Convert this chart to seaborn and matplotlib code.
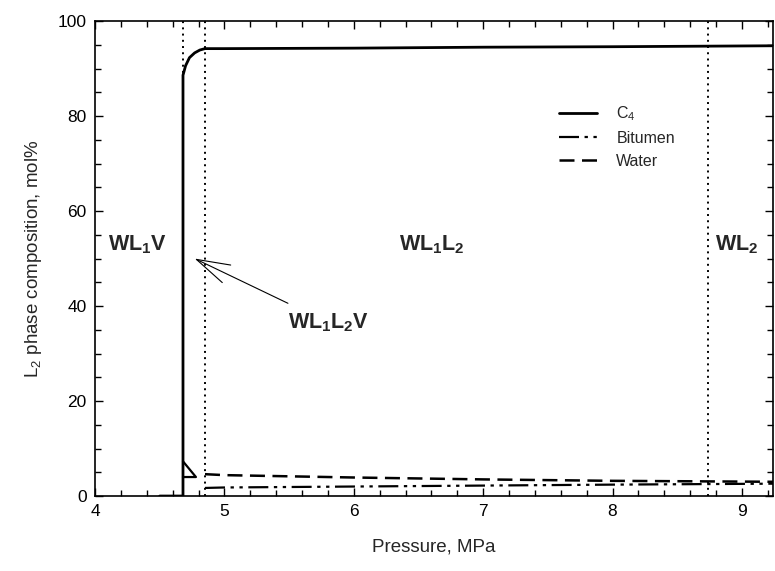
import matplotlib
matplotlib.use("Agg")
import matplotlib.pyplot as plt
from matplotlib.ticker import MultipleLocator
import seaborn as sns
import pandas as pd

# Pressure (MPa) and L2-phase composition (mol%)
c4_pressure = [4.50, 4.68, 4.68, 4.70, 4.73, 4.77, 4.81, 4.85, 5.0, 6.0, 7.0, 8.0, 9.24]
c4_mol = [0.0, 0.0, 88.6, 90.6, 92.3, 93.3, 93.9, 94.2, 94.2, 94.3, 94.5, 94.6, 94.8]

bitumen_pressure = [4.85, 5.0, 6.0, 7.0, 8.0, 9.24]
bitumen_mol = [1.7, 1.8, 2.0, 2.2, 2.4, 2.6]

water_pressure = [4.85, 5.0, 6.0, 7.0, 8.0, 9.24]
water_mol = [4.6, 4.4, 3.9, 3.5, 3.2, 3.0]

# three-phase L2 composition segment (bitumen/water inside WL1L2V)
three_phase_pressure = [4.68, 4.78, 4.68]
three_phase_mol = [7.3, 4.0, 4.0]

# phase boundaries (MPa)
boundaries = [4.68, 4.85, 8.74]

region_labels = [r"$\mathbf{WL_1V}$", r"$\mathbf{WL_1L_2}$", r"$\mathbf{WL_2}$"]
region_x = [4.1, 6.35, 8.79]
region_y = [53.0, 53.0, 53.0]

sns.set_style("ticks")
plt.rcParams["font.family"] = ["Liberation Sans", "DejaVu Sans"]
plt.rcParams["mathtext.fontset"] = "custom"
plt.rcParams["mathtext.rm"] = "Liberation Sans"
plt.rcParams["mathtext.it"] = "Liberation Sans:italic"
plt.rcParams["mathtext.bf"] = "Liberation Sans:bold"

fig = plt.figure(figsize=(7.75, 5.71), dpi=100)
ax = fig.add_axes([0.1226, 0.1313, 0.8748, 0.8318])

c4 = pd.DataFrame({"p": c4_pressure, "x": c4_mol})
bit = pd.DataFrame({"p": bitumen_pressure, "x": bitumen_mol})
wat = pd.DataFrame({"p": water_pressure, "x": water_mol})
tri = pd.DataFrame({"p": three_phase_pressure, "x": three_phase_mol})

common = dict(x="p", y="x", sort=False, estimator=None, color="black", ax=ax)
sns.lineplot(data=c4, lw=2.0, label=r"C$_4$", **common)
sns.lineplot(data=bit, lw=1.6, label="Bitumen",
             linestyle=(0, (9, 2.5, 1.5, 2.5, 1.5, 2.5)), **common)
sns.lineplot(data=wat, lw=1.8, label="Water", linestyle=(0, (6, 3)), **common)
sns.lineplot(data=tri, lw=1.6, legend=False, **common)

for b in boundaries:
    ax.axvline(b, color="black", lw=1.4, linestyle=(0, (1, 2.2)), zorder=1)

ax.set_xlim(4, 9.24)
ax.set_ylim(0, 100)
ax.xaxis.set_major_locator(MultipleLocator(1))
ax.xaxis.set_minor_locator(MultipleLocator(0.2))
ax.yaxis.set_major_locator(MultipleLocator(20))
ax.yaxis.set_minor_locator(MultipleLocator(5))
ax.tick_params(which="both", direction="in", top=True, right=True,
               width=1.0, colors="black")
ax.tick_params(which="major", length=6, labelsize=12.5, pad=6)
ax.tick_params(which="minor", length=4)
for s in ax.spines.values():
    s.set_linewidth(1.2)
    s.set_color("black")

ax.set_xlabel("Pressure, MPa", fontsize=13.5, labelpad=14)
ax.set_ylabel(r"L$_2$ phase composition, mol%", fontsize=13.5, labelpad=10)

for lab, x, y in zip(region_labels, region_x, region_y):
    ax.text(x, y, lab, fontsize=15.5, va="center", ha="left")

ax.annotate(r"$\mathbf{WL_1L_2V}$", xy=(4.77, 50.0), xytext=(5.49, 36.5),
            fontsize=15.5, va="center", ha="left",
            arrowprops=dict(arrowstyle="->,head_length=2.4,head_width=0.7",
                            color="black", lw=0.8, shrinkA=8, shrinkB=0,
                            mutation_scale=10))

leg = ax.legend(loc="upper left", bbox_to_anchor=(0.663, 0.855), frameon=False,
                fontsize=11.5, handlelength=2.4, handletextpad=1.2,
                labelspacing=0.5)

fig.savefig("out.png", dpi=100)
